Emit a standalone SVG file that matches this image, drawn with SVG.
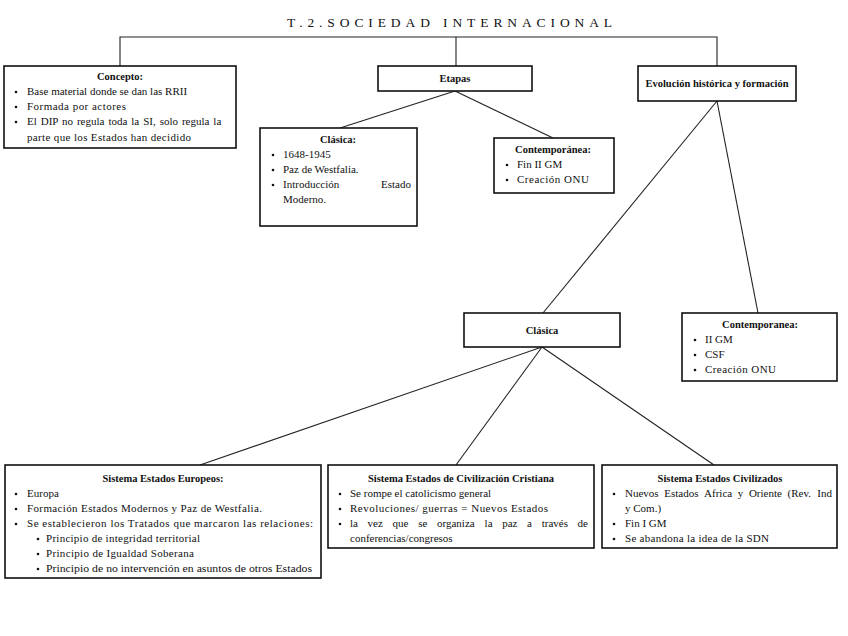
<svg xmlns="http://www.w3.org/2000/svg" width="848" height="636" viewBox="0 0 848 636">
<style>
text{font-size:11px;fill:#111}
.t{font-weight:bold;text-anchor:middle;font-size:10.5px}
.box{fill:#fff;stroke:#111;stroke-width:1.6}
.ln{stroke:#222;stroke-width:1.1;fill:none}
.b{fill:#111}
</style>
<rect width="848" height="636" fill="#fff"/>
<g font-family="Liberation Serif, Times New Roman, Times, serif">
<text x="452" y="27" text-anchor="middle" style="font-size:13.5px;letter-spacing:4.9px">T.2.SOCIEDAD INTERNACIONAL</text>
<g id="connectors">
<polyline class="ln" points="120,66 120,37 717,37 717,66"/>
<line class="ln" x1="456" y1="37" x2="456" y2="66"/>
<line class="ln" x1="455" y1="91" x2="340" y2="128"/>
<line class="ln" x1="455" y1="91" x2="553" y2="138"/>
<line class="ln" x1="717" y1="101" x2="543" y2="313"/>
<line class="ln" x1="717" y1="101" x2="758" y2="313"/>
<line class="ln" x1="542" y1="347" x2="200" y2="465"/>
<line class="ln" x1="542" y1="347" x2="456" y2="465"/>
<line class="ln" x1="542" y1="347" x2="714" y2="465"/>
</g>
<g id="concepto">
<rect class="box" x="4" y="66" width="232" height="82"/>
<text class="t" x="120" y="80">Concepto:</text>
<circle class="b" cx="16" cy="92" r="1.3"/><text x="27" y="95">Base material donde se dan las RRII</text>
<circle class="b" cx="16" cy="107" r="1.3"/><text x="27" y="110" textLength="99" lengthAdjust="spacing">Formada por actores</text>
<circle class="b" cx="16" cy="122" r="1.3"/><text x="27" y="125" word-spacing="1.2">El DIP no regula toda la SI, solo regula la</text>
<text x="27" y="141" textLength="164" lengthAdjust="spacing">parte que los Estados han decidido</text>
</g>
<g id="etapas">
<rect class="box" x="378" y="66" width="154" height="25"/>
<text class="t" x="455" y="82">Etapas</text>
</g>
<g id="evolucion">
<rect class="box" x="638" y="66" width="158" height="35"/>
<text class="t" x="717" y="87">Evolución histórica y formación</text>
</g>
<g id="clasica-etapas">
<rect class="box" x="260" y="128" width="157" height="98"/>
<text class="t" x="338" y="143">Clásica:</text>
<circle class="b" cx="273" cy="155" r="1.3"/><text x="283" y="158">1648-1945</text>
<circle class="b" cx="273" cy="170" r="1.3"/><text x="283" y="173">Paz de Westfalia.</text>
<circle class="b" cx="273" cy="185" r="1.3"/><text x="283" y="188">Introducción</text><text x="411" y="188" text-anchor="end">Estado</text>
<text x="283" y="203">Moderno.</text>
</g>
<g id="contemporanea-etapas">
<rect class="box" x="494" y="138" width="120" height="55"/>
<text class="t" x="553" y="153">Contemporánea:</text>
<circle class="b" cx="507" cy="165" r="1.3"/><text x="517" y="168">Fin II GM</text>
<circle class="b" cx="507" cy="180" r="1.3"/><text x="517" y="183" textLength="72" lengthAdjust="spacing">Creación ONU</text>
</g>
<g id="clasica">
<rect class="box" x="464" y="313" width="156" height="34"/>
<text class="t" x="542" y="334">Clásica</text>
</g>
<g id="contemporanea">
<rect class="box" x="682" y="313" width="155" height="68"/>
<text class="t" x="760" y="328">Contemporanea:</text>
<circle class="b" cx="695" cy="340" r="1.3"/><text x="705" y="343">II GM</text>
<circle class="b" cx="695" cy="355" r="1.3"/><text x="705" y="358">CSF</text>
<circle class="b" cx="695" cy="370" r="1.3"/><text x="705" y="373" textLength="71" lengthAdjust="spacing">Creación ONU</text>
</g>
<g id="europeos">
<rect class="box" x="5" y="465" width="316" height="113"/>
<text class="t" x="163" y="482">Sistema Estados Europeos:</text>
<circle class="b" cx="16" cy="494" r="1.3"/><text x="27" y="497">Europa</text>
<circle class="b" cx="16" cy="509" r="1.3"/><text x="27" y="512" textLength="235" lengthAdjust="spacing">Formación Estados Modernos y Paz de Westfalia.</text>
<circle class="b" cx="16" cy="524" r="1.3"/><text x="27" y="527" textLength="286" lengthAdjust="spacing">Se establecieron los Tratados que marcaron las relaciones:</text>
<circle class="b" cx="38" cy="539" r="1.3"/><text x="46" y="542" textLength="154" lengthAdjust="spacing">Principio de integridad territorial</text>
<circle class="b" cx="38" cy="554" r="1.3"/><text x="46" y="557" textLength="148" lengthAdjust="spacing">Principio de Igualdad Soberana</text>
<circle class="b" cx="38" cy="569" r="1.3"/><text x="46" y="572" textLength="266" lengthAdjust="spacingAndGlyphs">Principio de no intervención en asuntos de otros Estados</text>
</g>
<g id="cristiana">
<rect class="box" x="328" y="465" width="266" height="83"/>
<text class="t" x="461" y="482">Sistema Estados de Civilización Cristiana</text>
<circle class="b" cx="340" cy="494" r="1.3"/><text x="350" y="497">Se rompe el catolicismo general</text>
<circle class="b" cx="340" cy="509" r="1.3"/><text x="350" y="512" textLength="198" lengthAdjust="spacing">Revoluciones/ guerras = Nuevos Estados</text>
<circle class="b" cx="340" cy="524" r="1.3"/><text y="527"><tspan x="350">la</tspan><tspan x="367.6">vez</tspan><tspan x="392.6">que</tspan><tspan x="418.2">se</tspan><tspan x="437">organiza</tspan><tspan x="484.6">la</tspan><tspan x="502.2">paz</tspan><tspan x="527.1">a</tspan><tspan x="541.7">través</tspan></text><text x="588" y="527" text-anchor="end">de</text>
<text x="350" y="542">conferencias/congresos</text>
</g>
<g id="civilizados">
<rect class="box" x="602" y="465" width="235" height="83"/>
<text class="t" x="720" y="482">Sistema Estados Civilizados</text>
<circle class="b" cx="614" cy="494" r="1.3"/><text y="497"><tspan x="625">Nuevos</tspan><tspan x="664.2">Estados</tspan><tspan x="704.1">Africa</tspan><tspan x="737.8">y</tspan><tspan x="748.9">Oriente</tspan><tspan x="787.5">(Rev.</tspan></text><text x="832" y="497" text-anchor="end">Ind</text>
<text x="625" y="512">y Com.)</text>
<circle class="b" cx="614" cy="524" r="1.3"/><text x="625" y="527">Fin I GM</text>
<circle class="b" cx="614" cy="539" r="1.3"/><text x="625" y="542" textLength="144" lengthAdjust="spacing">Se abandona la idea de la SDN</text>
</g>
</g>
</svg>
